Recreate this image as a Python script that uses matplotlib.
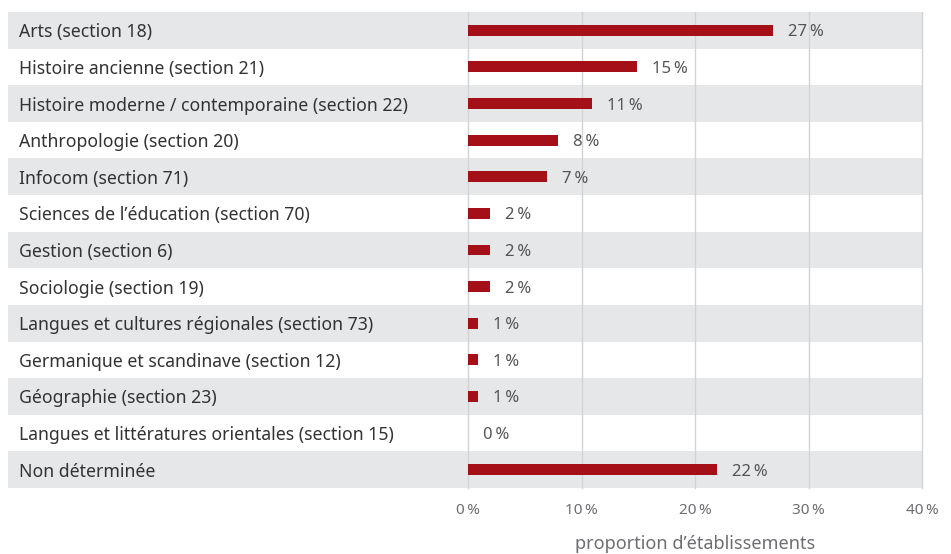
import matplotlib
matplotlib.use("Agg")
import matplotlib.pyplot as plt
from matplotlib.ticker import FixedLocator

categories = [
    "Arts (section 18)",
    "Histoire ancienne (section 21)",
    "Histoire moderne / contemporaine (section 22)",
    "Anthropologie (section 20)",
    "Infocom (section 71)",
    "Sciences de l\u2019\u00e9ducation (section 70)",
    "Gestion (section 6)",
    "Sociologie (section 19)",
    "Langues et cultures r\u00e9gionales (section 73)",
    "Germanique et scandinave (section 12)",
    "G\u00e9ographie (section 23)",
    "Langues et litt\u00e9ratures orientales (section 15)",
    "Non d\u00e9termin\u00e9e",
]
values = [26.9, 14.9, 10.9, 7.9, 7.0, 1.9, 1.9, 1.9, 0.9, 0.9, 0.9, 0.0, 21.9]
value_labels = ["27", "15", "11", "8", "7", "2", "2", "2", "1", "1", "1", "0", "22"]
xticks = [0, 10, 20, 30, 40]

plt.rcParams["font.family"] = ["Noto Sans", "DejaVu Sans"]

W, H = 951, 554
fig = plt.figure(figsize=(W / 100, H / 100), dpi=100)
x0, x1 = 468, 922
y_top, y_bot = 12, 488
ax = fig.add_axes([x0 / W, 1 - y_bot / H, (x1 - x0) / W, (y_bot - y_top) / H])

n = len(categories)
ax.set_xlim(0, 40)
ax.set_ylim(n - 0.5, -0.5)

band_left = (8 - x0) / (x1 - x0)
band_right = (923 - x0) / (x1 - x0)
for i in range(n):
    if i % 2 == 0:
        ax.axhspan(i - 0.5, i + 0.5, xmin=band_left, xmax=band_right,
                   color="#e6e7e8", lw=0, clip_on=False, zorder=0)

for t in xticks:
    ax.axvline(t, color="#d2d3d5", lw=1.0, zorder=1, clip_on=False)

ax.barh(range(n), values, height=0.3, color="#a50f17", zorder=2)

for i, (v, lab) in enumerate(zip(values, value_labels)):
    ax.annotate(lab + "\u2009%", (v, i), xytext=(15, -2), textcoords="offset pixels",
                va="center", ha="left", fontsize=12, color="#555555",
                fontweight="light")

lab_x = (19 - x0) / (x1 - x0)
for i, c in enumerate(categories):
    ax.annotate(c, (lab_x, i), xycoords=ax.get_yaxis_transform(),
                xytext=(0, -2), textcoords="offset pixels", ha="left",
                va="center", fontsize=12.7, color="#333333", fontweight="medium")

for s in ax.spines.values():
    s.set_visible(False)
ax.set_yticks([])
ax.xaxis.set_major_locator(FixedLocator(xticks))
ax.set_xticklabels([f"{t}\u2009%" for t in xticks], fontsize=11,
                   color="#6d6e71", fontweight="semibold")
ax.tick_params(axis="x", length=0, pad=11)
ax.set_xlabel("proportion d\u2019\u00e9tablissements", fontsize=13,
              color="#6d6e71", fontweight="light", labelpad=12)

fig.savefig("out.png", dpi=100)
